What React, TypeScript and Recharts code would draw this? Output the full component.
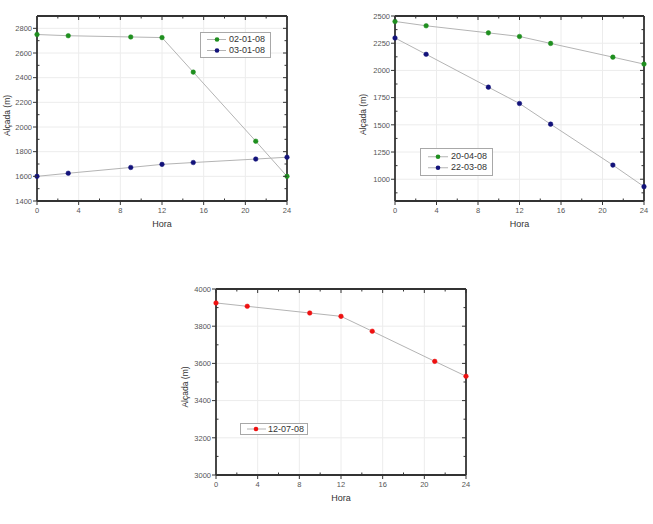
import React from 'react';
import { LineChart, Line, XAxis, YAxis, CartesianGrid, Legend } from 'recharts';

const hours = [0, 3, 9, 12, 15, 21, 24];
const alt020108 = [2750, 2740, 2730, 2725, 2445, 1885, 1600];
const alt030108 = [1600, 1625, 1672, 1697, 1712, 1740, 1755];
const alt200408 = [2450, 2410, 2345, 2312, 2248, 2122, 2058];
const alt220308 = [2298, 2148, 1846, 1696, 1506, 1130, 932];
const alt120708 = [3925, 3907, 3871, 3853, 3773, 3611, 3531];

const xTicks = [0, 2, 4, 6, 8, 10, 12, 14, 16, 18, 20, 22, 24];
const xMajors = [0, 4, 8, 12, 16, 20, 24];
const xGrid = [4, 8, 12, 16, 20];

const y1Ticks = [1400, 1500, 1600, 1700, 1800, 1900, 2000, 2100, 2200, 2300, 2400, 2500, 2600, 2700, 2800, 2900];
const y1Majors = [1400, 1600, 1800, 2000, 2200, 2400, 2600, 2800];
const y2Ticks = [875, 1000, 1125, 1250, 1375, 1500, 1625, 1750, 1875, 2000, 2125, 2250, 2375, 2500];
const y2Majors = [1000, 1250, 1500, 1750, 2000, 2250, 2500];
const y3Ticks = [3000, 3100, 3200, 3300, 3400, 3500, 3600, 3700, 3800, 3900, 4000];
const y3Majors = [3000, 3200, 3400, 3600, 3800, 4000];

const GREEN = '#1f8f1f';
const BLUE = '#12127a';
const RED = '#ee1111';
const LINE_GRAY = '#b4b4b4';
const AXIS = '#333333';
const FONT = 'Liberation Sans, Arial, sans-serif';

const build = (series: { key: string; values: number[] }[]) =>
  hours.map((h, i) => {
    const row: any = { h };
    series.forEach((s) => (row[s.key] = s.values[i]));
    return row;
  });

const data1 = build([
  { key: '02-01-08', values: alt020108 },
  { key: '03-01-08', values: alt030108 },
]);
const data2 = build([
  { key: '20-04-08', values: alt200408 },
  { key: '22-03-08', values: alt220308 },
]);
const data3 = build([{ key: '12-07-08', values: alt120708 }]);

const colorOf: Record<string, string> = {
  '02-01-08': GREEN,
  '03-01-08': BLUE,
  '20-04-08': GREEN,
  '22-03-08': BLUE,
  '12-07-08': RED,
};

const makeTick = (side: string, majors: number[], showLabel: boolean) => (props: any) => {
  const { x, y, payload } = props;
  const v = payload.value;
  const major = majors.includes(v);
  let line: any = null;
  let label: any = null;
  if (side === 'bottom') {
    line = major ? <line x1={x} y1={y} x2={x} y2={y + 4} stroke={AXIS} strokeWidth={1} /> : <line x1={x} y1={y} x2={x} y2={y - 2.5} stroke={AXIS} strokeWidth={1} />;
    if (showLabel && major)
      label = (
        <text x={x} y={y + 12} textAnchor="middle" fontSize={7.5} fill="#555" fontFamily={FONT}>
          {v}
        </text>
      );
  } else if (side === 'left') {
    line = major ? <line x1={x} y1={y} x2={x - 4} y2={y} stroke={AXIS} strokeWidth={1} /> : <line x1={x} y1={y} x2={x + 2.5} y2={y} stroke={AXIS} strokeWidth={1} />;
    if (showLabel && major)
      label = (
        <text x={x - 5} y={y + 2.7} textAnchor="end" fontSize={7.5} fill="#555" fontFamily={FONT}>
          {v}
        </text>
      );
  } else if (side === 'top') {
    line = <line x1={x} y1={y} x2={x} y2={y + (major ? 4 : 2.5)} stroke={AXIS} strokeWidth={1} />;
  } else if (side === 'right') {
    line = <line x1={x} y1={y} x2={x - (major ? 4 : 2.5)} y2={y} stroke={AXIS} strokeWidth={1} />;
  }
  return (
    <g>
      {line}
      {label}
    </g>
  );
};

const yLabel = (dx: number, dy: number) => (props: any) => {
  const vb = props.viewBox;
  const cx = vb.x + dx;
  const cy = vb.y + vb.height / 2 + dy;
  return (
    <text
      x={cx}
      y={cy}
      transform={`rotate(-90 ${cx} ${cy})`}
      textAnchor="middle"
      dominantBaseline="central"
      fontSize={8.5}
      fill="#333"
      fontFamily={FONT}
    >
      Alçada (m)
    </text>
  );
};

const xLabel = (props: any) => {
  const vb = props.viewBox;
  return (
    <text x={vb.x + vb.width / 2} y={vb.y + 26} textAnchor="middle" fontSize={9} fill="#333" fontFamily={FONT}>
      Hora
    </text>
  );
};

const makeLegend = (cfg: { lineX1: number; lineX2: number; markX: number; textX: number; rowH: number; pad: number; width: number }) => (props: any) => {
  const payload = props.payload || [];
  return (
    <div
      style={{
        border: '1px solid #a8a8a8',
        background: '#fff',
        width: cfg.width,
        paddingTop: cfg.pad,
        paddingBottom: cfg.pad,
        boxSizing: 'border-box',
        fontFamily: FONT,
        fontSize: 9,
        color: '#333',
      }}
    >
      {payload.map((p: any) => (
        <div key={p.value} style={{ position: 'relative', height: cfg.rowH, lineHeight: cfg.rowH + 'px' }}>
          <svg width={cfg.textX} height={cfg.rowH} style={{ position: 'absolute', left: 0, top: 0 }}>
            <line x1={cfg.lineX1} x2={cfg.lineX2} y1={cfg.rowH / 2} y2={cfg.rowH / 2} stroke={LINE_GRAY} strokeWidth={1} />
            <circle cx={cfg.markX} cy={cfg.rowH / 2} r={2.3} fill={colorOf[p.value]} />
          </svg>
          <span style={{ position: 'absolute', left: cfg.textX, top: 0, whiteSpace: 'nowrap' }}>{p.value}</span>
        </div>
      ))}
    </div>
  );
};

type PanelProps = {
  data: any[];
  keys: string[];
  yDomain: [number, number];
  yTicks: number[];
  yMajors: number[];
  width: number;
  height: number;
  margin: any;
  xAxisH: number;
  yLabelDx: number;
  yLabelDy: number;
  legend: any;
  legendPos: { left: number; top: number };
};

const Panel = (p: PanelProps) => {
  const yGrid = p.yMajors.filter((v) => v !== p.yDomain[0] && v !== p.yDomain[1]);
  return (
    <LineChart width={p.width} height={p.height} data={p.data} margin={p.margin}>
      <CartesianGrid stroke="#ececec" strokeWidth={1} horizontalValues={yGrid} verticalValues={xGrid} />
      <XAxis
        dataKey="h"
        type="number"
        domain={[0, 24]}
        ticks={xTicks}
        interval={0}
        height={p.xAxisH}
        tickSize={0}
        tickMargin={0}
        tickLine={false}
        axisLine={{ stroke: AXIS, strokeWidth: 1.8 }}
        tick={makeTick('bottom', xMajors, true)}
        label={xLabel}
      />
      <XAxis
        xAxisId="top"
        orientation="top"
        dataKey="h"
        type="number"
        domain={[0, 24]}
        ticks={xTicks}
        interval={0}
        height={1}
        tickSize={0}
        tickMargin={0}
        tickLine={false}
        axisLine={{ stroke: AXIS, strokeWidth: 1.8 }}
        tick={makeTick('top', xMajors, false)}
      />
      <YAxis
        type="number"
        domain={p.yDomain}
        ticks={p.yTicks}
        interval={0}
        width={37}
        tickSize={0}
        tickMargin={0}
        tickLine={false}
        allowDataOverflow
        axisLine={{ stroke: AXIS, strokeWidth: 1.8 }}
        tick={makeTick('left', p.yMajors, true)}
        label={yLabel(p.yLabelDx, p.yLabelDy)}
      />
      <YAxis
        yAxisId="right"
        orientation="right"
        type="number"
        domain={p.yDomain}
        ticks={p.yTicks}
        interval={0}
        width={1}
        tickSize={0}
        tickMargin={0}
        tickLine={false}
        allowDataOverflow
        axisLine={{ stroke: AXIS, strokeWidth: 1.8 }}
        tick={makeTick('right', p.yMajors, false)}
      />
      <Legend
        layout="vertical"
        align="center"
        verticalAlign="middle"
        content={p.legend}
        wrapperStyle={{ left: p.legendPos.left, top: p.legendPos.top, width: 'auto', height: 'auto', transform: 'none' }}
      />
      {p.keys.map((k) => (
        <Line
          key={k}
          dataKey={k}
          name={k}
          type="linear"
          stroke={LINE_GRAY}
          strokeWidth={1}
          dot={{ r: 2.3, fill: colorOf[k], stroke: colorOf[k], strokeWidth: 0.5 }}
          activeDot={false}
          isAnimationActive={false}
        />
      ))}
    </LineChart>
  );
};

export default function App() {
  return (
    <div style={{ position: 'absolute', left: 0, top: 0, width: 653, height: 524, background: '#fff', overflow: 'hidden' }}>
      <div style={{ position: 'absolute', left: 0, top: 0 }}>
        <Panel
          data={data1}
          keys={['02-01-08', '03-01-08']}
          yDomain={[1400, 2900]}
          yTicks={y1Ticks}
          yMajors={y1Majors}
          width={300}
          height={235}
          margin={{ top: 15, right: 12, left: 0, bottom: 0 }}
          xAxisH={34}
          yLabelDx={7}
          yLabelDy={7}
          legend={makeLegend({ lineX1: 6, lineX2: 25, markX: 16, textX: 28, rowH: 11, pad: 1, width: 71 })}
          legendPos={{ left: 200, top: 32 }}
        />
      </div>
      <div style={{ position: 'absolute', left: 358, top: 0 }}>
        <Panel
          data={data2}
          keys={['20-04-08', '22-03-08']}
          yDomain={[800, 2500]}
          yTicks={y2Ticks}
          yMajors={y2Majors}
          width={295}
          height={235}
          margin={{ top: 15, right: 8, left: 0, bottom: 0 }}
          xAxisH={34}
          yLabelDx={5}
          yLabelDy={6}
          legend={makeLegend({ lineX1: 7, lineX2: 27, markX: 17, textX: 30, rowH: 11.5, pad: 1.5, width: 73 })}
          legendPos={{ left: 62, top: 148 }}
        />
      </div>
      <div style={{ position: 'absolute', left: 179, top: 273 }}>
        <Panel
          data={data3}
          keys={['12-07-08']}
          yDomain={[3000, 4000]}
          yTicks={y3Ticks}
          yMajors={y3Majors}
          width={300}
          height={235}
          margin={{ top: 15, right: 12, left: 0, bottom: 0 }}
          xAxisH={33}
          yLabelDx={6}
          yLabelDy={5}
          legend={makeLegend({ lineX1: 6, lineX2: 25, markX: 15, textX: 27, rowH: 10, pad: 0, width: 68 })}
          legendPos={{ left: 61, top: 150 }}
        />
      </div>
    </div>
  );
}
